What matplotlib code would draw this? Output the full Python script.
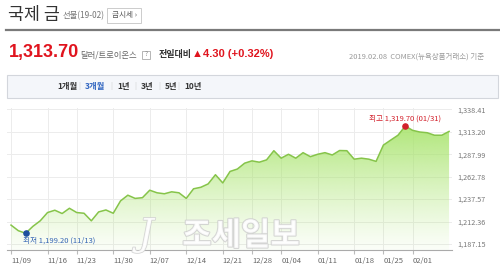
import matplotlib

matplotlib.use("Agg")

import matplotlib.patheffects as pe
import matplotlib.pyplot as plt
import numpy as np
import pandas as pd
from matplotlib.colors import to_rgb
from matplotlib.patches import Rectangle

plt.rcParams["font.family"] = ["Noto Sans CJK KR", "DejaVu Sans"]

# trading days shown on the chart (COMEX closed days removed)
holidays = ["2018-11-22", "2018-12-25", "2019-01-01", "2019-01-21", "2019-01-28"]
dates = pd.bdate_range("2018-11-09", "2019-02-08")
dates = dates[~dates.isin(pd.to_datetime(holidays))]

prices = [
    1208.4, 1202.1, 1199.2, 1207.0, 1213.2, 1222.5, 1225.1, 1221.4, 1227.3, 1222.5,
    1221.7, 1213.2, 1223.2, 1225.4, 1221.7, 1235.6, 1242.0, 1238.4, 1239.2, 1247.6,
    1244.7, 1243.6, 1245.8, 1244.7, 1238.4, 1249.2, 1250.9, 1254.7, 1265.0, 1255.8,
    1268.7, 1271.4, 1278.0, 1280.6, 1279.1, 1281.7, 1292.0, 1283.6, 1288.0, 1283.6,
    1289.8, 1285.3, 1288.0, 1289.8, 1287.2, 1292.2, 1292.0, 1282.5, 1283.6, 1282.5,
    1280.0, 1298.3, 1303.9, 1309.4, 1319.7, 1314.9, 1313.0, 1312.2, 1309.4, 1309.4,
    1313.7,
]

tick_dates = [
    "2018-11-09", "2018-11-16", "2018-11-23", "2018-11-30", "2018-12-07",
    "2018-12-14", "2018-12-21", "2018-12-28", "2019-01-04", "2019-01-11",
    "2019-01-18", "2019-01-25", "2019-02-01",
]
y_ticks = [1187.15, 1212.36, 1237.57, 1262.78, 1287.99, 1313.20, 1338.41]

period_tabs = ["1개월", "3개월", "1년", "3년", "5년", "10년"]

W, H = 500, 269


def px(x, y):
    return x / W, 1 - y / H


fig = plt.figure(figsize=(W / 100, H / 100), dpi=100)
fig.patch.set_facecolor("white")

# ---- header ----
fig.text(*px(8, 15), "국제 금", fontsize=12.5, color="#333333", va="center")
fig.text(*px(63, 16), "선물(19-02)", fontsize=6, color="#777777", va="center")
fig.patches.append(Rectangle(px(107, 23), 34 / W, 15 / H, transform=fig.transFigure,
                             facecolor="white", edgecolor="#cccccc", lw=0.7))
fig.text(*px(124, 15.5), "금시세 ›", fontsize=5.5, color="#555555", ha="center", va="center")
fig.add_artist(plt.Line2D([6 / W, 1], [1 - 29.5 / H] * 2, transform=fig.transFigure,
                          color="#7a7a7a", lw=1.6))

fig.text(*px(9, 53), "1,313.70", fontsize=13, fontweight="bold", color="#e0141e",
         va="center", family=["Liberation Sans", "DejaVu Sans"])
fig.text(*px(80, 55), "달러/트로이온스", fontsize=6, color="#666666", va="center")
fig.patches.append(Rectangle(px(142, 58.5), 8 / W, 8 / H, transform=fig.transFigure,
                             facecolor="white", edgecolor="#aaaaaa", lw=0.6))
fig.text(*px(146, 54.5), "?", fontsize=4.5, color="#888888", ha="center", va="center")
fig.text(*px(159, 54.5), "전일대비", fontsize=6.5, color="#333333", va="center",
         fontweight="bold")
fig.text(*px(192, 54.5), "▲4.30 (+0.32%)", fontsize=8, color="#e0141e", va="center",
         fontweight="bold", family=["Liberation Sans", "DejaVu Sans"])
fig.text(*px(484, 57), "2019.02.08  COMEX(뉴욕상품거래소) 기준", fontsize=5.4,
         color="#999999", ha="right", va="center")

fig.patches.append(Rectangle(px(7, 98), 491 / W, 23 / H, transform=fig.transFigure,
                             facecolor="#f4f6fa", edgecolor="#d3d6dc", lw=0.8))
tab_x = [57, 85, 117, 141, 165, 184]
for i, (label, tx) in enumerate(zip(period_tabs, tab_x)):
    color = "#2f64c0" if label == "3개월" else "#333333"
    fig.text(*px(tx, 86.5), label, fontsize=6, color=color, va="center", fontweight="bold")
    if i > 0:
        fig.text(*px(tx - 6, 86.5), "|", fontsize=5.5, color="#d0d0d0", ha="center",
                 va="center")

# ---- chart ----
x = np.arange(len(dates))
y = np.array(prices)
y_low, y_high = 1180.4, 1340.0

left, right = px(7, 0)[0], px(452, 0)[0]
bottom, top = px(0, 250)[1], px(0, 108)[1]
ax = fig.add_axes([left, bottom, right - left, top - bottom])
ax.set_xlim(-0.55, len(dates) - 0.6)
ax.set_ylim(y_low, y_high)

# gradient fill under the line
fill = ax.fill_between(x, y, y_low, facecolor="none", edgecolor="none")
top_rgb = np.array(to_rgb("#a8e46c"))
grad = np.linspace(0, 1, 256)[:, None]
img = np.ones((256, 2, 4))
img[:, :, :3] = top_rgb
img[:, :, 3] = 0.05 + 0.85 * grad ** 1.2
im = ax.imshow(img, extent=[x[0], x[-1], y_low, y.max()], origin="lower",
               aspect="auto", zorder=1, interpolation="bilinear")
im.set_clip_path(fill.get_paths()[0], transform=ax.transData)
ax.plot(x, y, color="#86c44a", lw=1.1, zorder=3)

tick_pos = [dates.get_loc(pd.Timestamp(d)) for d in tick_dates]
tick_labels = [pd.Timestamp(d).strftime("%m/%d") for d in tick_dates]
ax.set_xticks(tick_pos)
ax.set_xticklabels(tick_labels, fontsize=5.5, color="#666666", ha="left")
ax.tick_params(axis="x", length=3, color="#bbbbbb", pad=2)
ax.set_yticks(y_ticks)
ax.set_yticklabels([f"{v:,.2f}" for v in y_ticks], fontsize=5.2, color="#777777")
ax.yaxis.tick_right()
ax.tick_params(axis="y", length=0, pad=4)
ax.grid(True, color="#ececec", lw=0.7, zorder=0)
ax.set_axisbelow(True)
for side in ["top", "left", "right"]:
    ax.spines[side].set_visible(False)
ax.spines["bottom"].set_color("#aaaaaa")
ax.spines["bottom"].set_linewidth(0.8)

# min / max markers
i_min, i_max = int(np.argmin(y)), int(np.argmax(y))
ax.scatter([x[i_min]], [y[i_min]], s=14, color="#1d4f9e", zorder=5)
ax.text(x[i_min] - 0.3, y[i_min] - 3.5,
        f"최저 {y[i_min]:,.2f} ({dates[i_min]:%m/%d})",
        fontsize=5.5, color="#3565b4", ha="left", va="top", zorder=6)
ax.scatter([x[i_max]], [y[i_max]], s=14, color="#d21f2a", zorder=5)
ax.text(x[i_max], y[i_max] + 3.5,
        f"최고 {y[i_max]:,.2f} ({dates[i_max]:%m/%d})",
        fontsize=5.5, color="#d21f2a", ha="center", va="bottom", zorder=6)

# watermark
ax.text(31.5, 1196, "조세일보", fontsize=23, fontweight="bold", color="white",
        alpha=0.85, ha="center", va="center", zorder=4,
        path_effects=[pe.withStroke(linewidth=1.5, foreground="#cfcfcf")])
ax.text(18.5, 1197, "J", fontsize=27, fontstyle="italic", color="white",
        alpha=0.85, ha="center", va="center", zorder=4, family=["DejaVu Serif"],
        path_effects=[pe.withStroke(linewidth=1.2, foreground="#cfcfcf")])

fig.savefig("out.png", dpi=100)
